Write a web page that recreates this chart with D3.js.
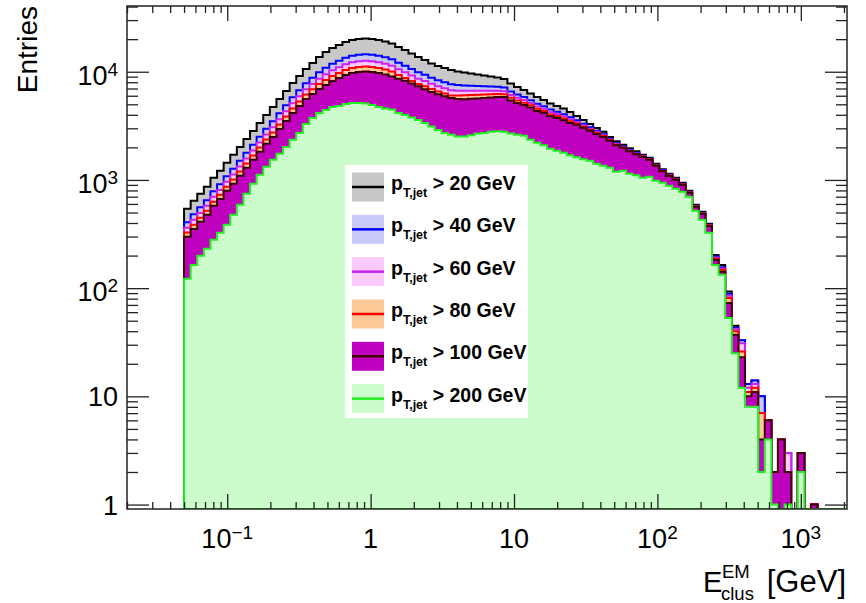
<!DOCTYPE html>
<html><head><meta charset="utf-8">
<script src="https://cdn.jsdelivr.net/npm/d3@7"></script>
<style>body{margin:0;background:#fff}svg{display:block}</style>
</head><body>
<svg id="chart" width="866" height="603"></svg>
<script>
// ---- binning (log bins) ----
const binLow = 0.05, binHigh = 2000, nBins = 100;

// ---- series values (entries per bin) ----
const pt20 = [541,641,744,864,1046,1213,1439,1705,2021,2396,
  2840,3367,3991,4732,5609,6649,7882,9147,10614,12058,
  13700,15230,16590,17680,18850,19660,20090,20300,20090,19660,
  19050,18250,16940,15900,14760,13700,12850,11930,11310,10840,
  10390,10060,9852,9645,9443,9244,9050,8860,8580,7798,
  7237,6790,6302,5851,5490,5097,4833,4583,4254,3908,
  3589,3296,3028,2781,2500,2272,2110,1958,1837,1705,
  1600,1408,1253,1138,1046,940,793,589,508,393,
  203,164,93,45,33,13,14,10,6,2,
  4,3,0,3,0,1,0,0,0,0];
const pt40 = [406,481,559,649,786,911,1081,1269,1504,1783,
  2113,2505,2969,3483,4128,4894,5801,6732,7812,8790,
  9878,10874,11845,12624,13459,14037,14344,14494,14344,14037,
  13602,13031,12095,11353,10598,9878,9368,8780,8324,7978,
  7647,7525,7478,7436,7394,7349,7303,7265,7139,6558,
  6144,5826,5464,5073,4809,4465,4277,4056,3803,3564,
  3309,3069,2846,2642,2400,2181,2047,1899,1782,1671,
  1568,1380,1228,1115,1025,921,777,577,498,385,
  196,156,89,43,33,13,14,10,6,2,
  4,3,0,3,0,1,0,0,0,0];
const pt60 = [361,428,496,576,698,809,960,1122,1330,1577,
  1869,2215,2626,3066,3635,4309,5108,5927,6878,7705,
  8617,9458,10302,10979,11706,12209,12476,12606,12476,12209,
  11830,11333,10520,9874,9225,8617,8211,7731,7329,7024,
  6733,6670,6670,6674,6667,6674,6679,6689,6615,6098,
  5746,5466,5149,4780,4551,4225,4065,3854,3629,3431,
  3198,2980,2777,2586,2360,2145,2019,1874,1758,1656,
  1554,1367,1217,1105,1016,913,770,572,493,382,
  192,152,85,42,31,12,13,7,6,2,
  4,3,0,3,0,1,0,0,0,0];
const pt80 = [326,386,448,520,630,730,866,1009,1196,1418,
  1681,1993,2363,2749,3259,3863,4579,5314,6167,6873,
  7686,8392,9141,9742,10386,10833,11070,11185,11070,10833,
  10497,10056,9334,8761,8207,7686,7325,6931,6571,6298,
  6037,6016,6049,6086,6119,6157,6190,6229,6195,5739,
  5421,5181,4890,4540,4343,4032,3891,3689,3488,3322,
  3108,2904,2716,2542,2328,2115,1998,1854,1740,1644,
  1542,1357,1208,1097,1008,906,764,568,490,379,
  187,148,81,40,26,11,12,7,6,2,
  4,2,0,3,0,1,0,0,0,0];
const pt100 = [298,353,410,476,576,668,793,921,1091,1294,
  1534,1818,2155,2498,2962,3511,4162,4830,5604,6234,
  6932,7554,8229,8769,9350,9751,9965,10069,9965,9751,
  9449,9052,8600,8250,7800,7350,6900,6500,6180,5930,
  5720,5600,5560,5620,5666,5731,5792,5856,5852,5435,
  5153,4936,4676,4341,4167,3869,3746,3552,3365,3228,
  3029,2841,2665,2500,2298,2088,1979,1837,1723,1633,
  1533,1349,1200,1090,1002,901,760,564,487,376,
  183,142,73,37,23,10,11,4,6,2,
  4,2,0,3,0,1,0,0,0,0];
const pt200 = [122,164,199,231,280,325,385,476,589,744,
  920,1115,1321,1534,1742,2021,2346,2722,3297,3745,
  4165,4436,4731,4832,5046,5151,5153,5097,4938,4730,
  4583,4486,4164,3992,3786,3589,3367,3126,2901,2722,
  2609,2526,2527,2582,2693,2722,2781,2811,2781,2693,
  2609,2555,2346,2201,2087,1938,1857,1780,1688,1617,
  1550,1501,1408,1350,1293,1188,1213,1138,1103,1046,
  1068,981,940,882,828,777,698,518,428,325,
  164,133,53,25,12,8,8,2,4,1,
  0,1,0,2,0,0,0,0,0,0];

const cutLabels = ["20", "40", "60", "80", "100", "200"];
const xTickLabels = [{v:0.1,b:"10",s:"\u22121"},{v:1,b:"1",s:""},{v:10,b:"10",s:""},{v:100,b:"10",s:"2"},{v:1000,b:"10",s:"3"}];
const yTickLabels = [{v:1,b:"1",s:""},{v:10,b:"10",s:""},{v:100,b:"10",s:"2"},{v:1000,b:"10",s:"3"},{v:10000,b:"10",s:"4"}];

// ---- styles ----
const styles = [
  {fill:"#c8c8c8", line:"#000000"},
  {fill:"#c9c9f7", line:"#0000ff"},
  {fill:"#fccafc", line:"#cc22ee"},
  {fill:"#fcc898", line:"#ff0000"},
  {fill:"#bf00bf", line:"#3a0000"},
  {fill:"#ccfccc", line:"#22ee22"}
];
const series = [pt20, pt40, pt60, pt80, pt100, pt200];
const FONT = "'Liberation Sans', Arial, Helvetica, sans-serif";

const L = 127, R = 847, T = 6, B = 509;
const svg = d3.select("#chart");
const x = d3.scaleLog().domain([0.02, 2100]).range([L, R]);
const y = d3.scaleLog().domain([0.91, 40500]).range([B, T]);

const edges = d3.range(nBins + 1).map(i => binLow * Math.pow(binHigh / binLow, i / nBins));

svg.append("defs").append("clipPath").attr("id", "frame")
  .append("rect").attr("x", L).attr("y", T).attr("width", R - L).attr("height", B - T);

const plot = svg.append("g").attr("clip-path", "url(#frame)");
function stepPath(vals) {
  const yy = v => v > 0 ? y(v) : B;
  let d = `M${x(edges[0])},${B}`;
  vals.forEach((v, i) => { d += `V${yy(v)}H${x(edges[i + 1])}`; });
  d += `V${B}Z`;
  return d;
}
series.forEach((vals, k) => {
  plot.append("path").attr("d", stepPath(vals))
    .attr("fill", styles[k].fill).attr("stroke", styles[k].line)
    .attr("stroke-width", 2).attr("stroke-linejoin", "miter");
});

// ---- legend ----
const leg = svg.append("g");
leg.append("rect").attr("x", 345).attr("y", 165).attr("width", 183).attr("height", 253).attr("fill", "#fff");
cutLabels.forEach((c, k) => {
  const cy = 187 + k * 42.33;
  leg.append("rect").attr("x", 352).attr("y", cy - 14.5).attr("width", 32).attr("height", 29).attr("fill", styles[k].fill);
  leg.append("line").attr("x1", 352).attr("x2", 384).attr("y1", cy).attr("y2", cy)
    .attr("stroke", styles[k].line).attr("stroke-width", 2.5);
  const t = leg.append("text").attr("x", 391).attr("y", cy + 3)
    .attr("font-family", FONT).attr("font-weight", "bold").attr("font-size", 19.5).attr("fill", "#000");
  t.append("tspan").text("p");
  t.append("tspan").attr("dy", 7).attr("font-size", 12.5).text("T,jet");
  t.append("tspan").attr("dy", -7).text(" > " + c + " GeV");
});

// ---- axes ----
const xMaj = [0.1, 1, 10, 100, 1000];
const xMin = [];
[0.01, 0.1, 1, 10, 100, 1000].forEach(d => d3.range(2, 10).forEach(k => { const v = k * d; if (v >= 0.02 && v <= 2100) xMin.push(v); }));
const yMaj = [1, 10, 100, 1000, 10000];
const yMin = [];
[1, 10, 100, 1000, 10000].forEach(d => d3.range(2, 10).forEach(k => { const v = k * d; if (v <= 40500) yMin.push(v); }));

function styleAxis(g) {
  g.select(".domain").remove();
  g.selectAll(".tick line").attr("stroke", "#222").attr("stroke-width", 1.3);
  g.selectAll(".tick text").remove();
}
svg.append("g").attr("transform", `translate(0,${B})`).call(d3.axisBottom(x).tickValues(xMaj).tickSize(-15).tickFormat("")).call(styleAxis);
svg.append("g").attr("transform", `translate(0,${B})`).call(d3.axisBottom(x).tickValues(xMin).tickSize(-7).tickFormat("")).call(styleAxis);
svg.append("g").attr("transform", `translate(0,${T})`).call(d3.axisTop(x).tickValues(xMaj).tickSize(-15).tickFormat("")).call(styleAxis);
svg.append("g").attr("transform", `translate(0,${T})`).call(d3.axisTop(x).tickValues(xMin).tickSize(-7).tickFormat("")).call(styleAxis);
svg.append("g").attr("transform", `translate(${L},0)`).call(d3.axisLeft(y).tickValues(yMaj).tickSize(-22).tickFormat("")).call(styleAxis);
svg.append("g").attr("transform", `translate(${L},0)`).call(d3.axisLeft(y).tickValues(yMin).tickSize(-11).tickFormat("")).call(styleAxis);
svg.append("g").attr("transform", `translate(${R},0)`).call(d3.axisRight(y).tickValues(yMaj).tickSize(-22).tickFormat("")).call(styleAxis);
svg.append("g").attr("transform", `translate(${R},0)`).call(d3.axisRight(y).tickValues(yMin).tickSize(-11).tickFormat("")).call(styleAxis);

svg.append("rect").attr("x", L).attr("y", T).attr("width", R - L).attr("height", B - T)
  .attr("fill", "none").attr("stroke", "#222").attr("stroke-width", 1.5);

function label(g, d, xPos, yPos, anchor) {
  const t = g.append("text").attr("x", xPos).attr("y", yPos).attr("text-anchor", anchor)
    .attr("font-family", FONT).attr("font-size", 27).attr("fill", "#000");
  t.append("tspan").text(d.b);
  if (d.s) t.append("tspan").attr("dy", -9).attr("font-size", 19).text(d.s);
}
const labs = svg.append("g");
xTickLabels.forEach(d => label(labs, d, x(d.v), 548, "middle"));
yTickLabels.forEach(d => label(labs, d, 118, y(d.v) + (d.s ? 13 : 10), "end"));

// ---- titles ----
svg.append("text").attr("transform", "translate(37,6) rotate(-90)").attr("text-anchor", "end")
  .attr("font-family", FONT).attr("font-size", 28).text("Entries");
const xt = svg.append("g").attr("font-family", FONT).attr("fill", "#000");
xt.append("text").attr("x", 703).attr("y", 592).attr("font-size", 29).text("E");
xt.append("text").attr("x", 722).attr("y", 578).attr("font-size", 18.5).text("EM");
xt.append("text").attr("x", 721).attr("y", 600).attr("font-size", 18.5).text("clus");
xt.append("text").attr("x", 846).attr("y", 592).attr("text-anchor", "end").attr("font-size", 31).text("[GeV]");
</script>
</body></html>
